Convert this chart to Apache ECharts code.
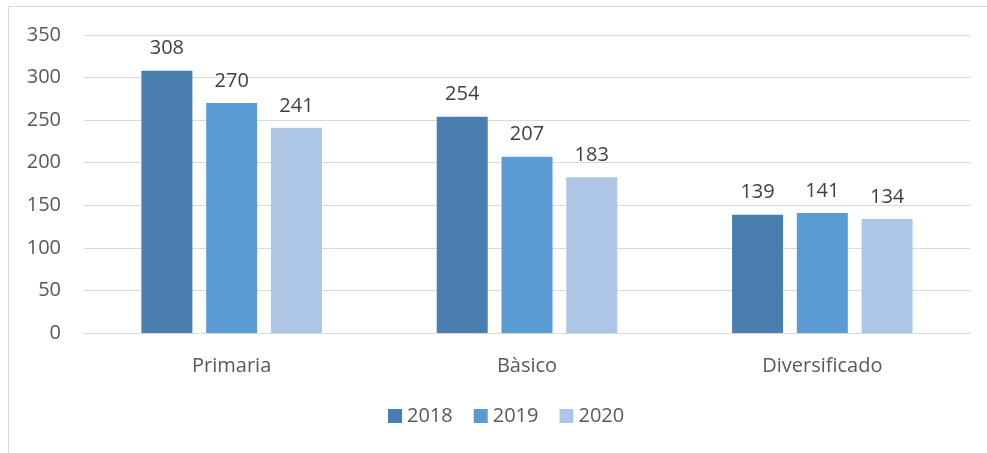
<!DOCTYPE html>
<html><head><meta charset="utf-8">
<script src="https://cdn.jsdelivr.net/npm/echarts@6/dist/echarts.min.js"></script>
<style>html,body{margin:0;padding:0;background:#fff}#c{width:987px;height:453px}</style>
</head><body><div id="c"></div>
<script>
const categories = ['Primaria', 'Bàsico', 'Diversificado'];
const seriesNames = ['2018', '2019', '2020'];
const values2018 = [308, 254, 139];
const values2019 = [270, 207, 141];
const values2020 = [241, 183, 134];
const yTicks = [0, 50, 100, 150, 200, 250, 300, 350];

const colors = ['#4A7EB0', '#5B9BD5', '#ADC6E6'];
const font = '"Open Sans", "Noto Sans", sans-serif';
const txt = '#595959';
const data = [values2018, values2019, values2020];

const chart = echarts.init(document.getElementById('c'));
chart.setOption({
  animation: false,
  color: colors,
  graphic: [{type:'polyline', shape:{points:[[8.5,453],[8.5,6.5],[987,6.5]]}, style:{stroke:'#d9d9d9', lineWidth:1, fill:null}}],
  grid: {left: 84, right: 17, top: 35, bottom: 120},
  legend: {
    bottom: 22, left: 383, itemWidth: 14, itemHeight: 14, itemGap: 21,
    icon: 'rect',
    textStyle: {fontFamily: font, fontSize: 20, color: txt}
  },
  xAxis: {
    type: 'category', data: categories,
    axisLine: {show: true, lineStyle: {color: '#d9d9d9'}},
    axisTick: {show: false},
    axisLabel: {fontFamily: font, fontSize: 20, color: txt, margin: 23}
  },
  yAxis: {
    type: 'value', min: yTicks[0], max: yTicks[yTicks.length-1], interval: 50,
    axisLine: {show: false}, axisTick: {show: false},
    splitLine: {lineStyle: {color: '#d9d9d9'}},
    axisLabel: {fontFamily: font, fontSize: 20, color: txt, margin: 23}
  },
  series: seriesNames.map((n, i) => ({
    name: n, type: 'bar', data: data[i],
    barWidth: 51, barGap: '27%',
    label: {show: true, position: 'top', distance: 12, fontFamily: font, fontSize: 20, color: '#404040'}
  }))
});
</script></body></html>
